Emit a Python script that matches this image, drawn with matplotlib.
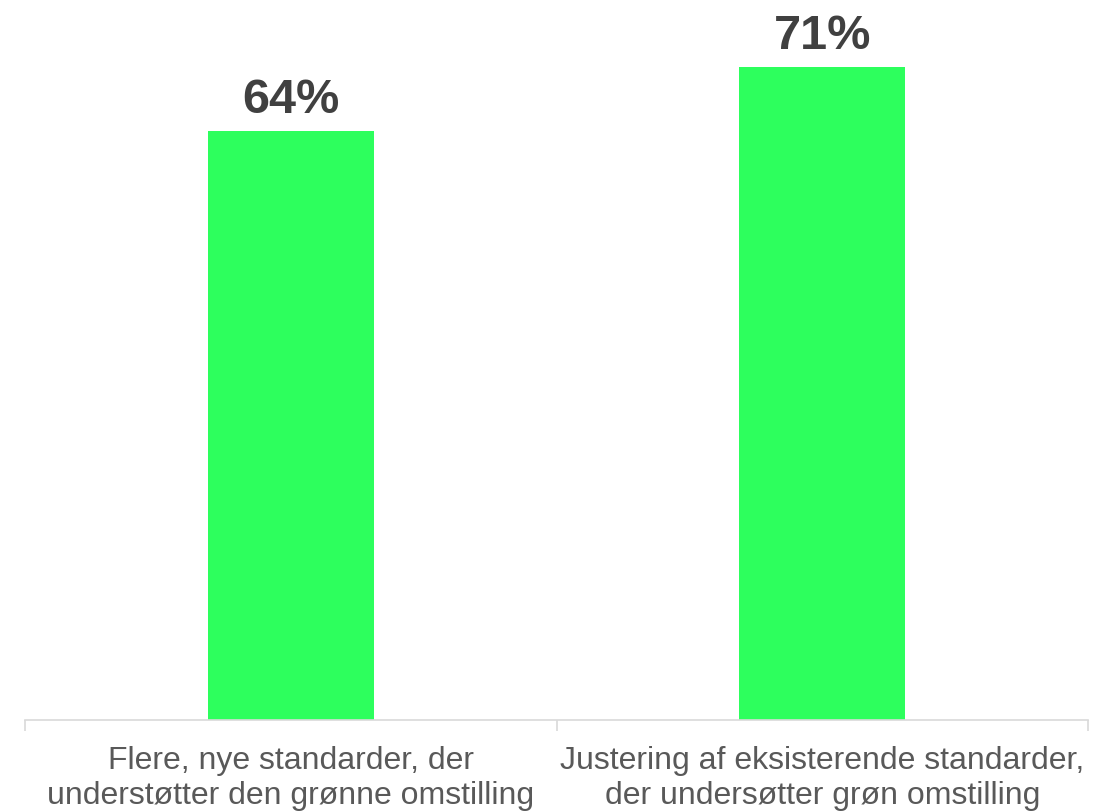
import matplotlib.pyplot as plt

# data
categories = [
    "Flere, nye standarder, der\nunderstøtter den grønne omstilling",
    "Justering af eksisterende standarder,\nder undersøtter grøn omstilling",
]
values = [64, 71]
value_labels = ["64%", "71%"]

plt.rcParams['font.family'] = ['Liberation Sans', 'DejaVu Sans']

fig = plt.figure(figsize=(10.96, 8.11), dpi=100)
ax = fig.add_axes([25 / 1096, (811 - 720) / 811, 1063 / 1096, 720 / 811])

x = list(range(len(categories)))
bars = ax.bar(x, values, width=0.312, color='#2DFF5D')

ax.set_xlim(-0.5, len(categories) - 0.5)
ax.set_ylim(0, 78.3)

for b, lab in zip(bars, value_labels):
    ax.annotate(lab, (b.get_x() + b.get_width() / 2, b.get_height()),
                xytext=(0, 6), textcoords='offset points',
                ha='center', va='bottom', fontsize=35, fontweight='bold',
                color='#404040')

for s in ['top', 'right', 'left']:
    ax.spines[s].set_visible(False)
ax.spines['bottom'].set_color('#D9D9D9')
ax.spines['bottom'].set_linewidth(1.2)

ax.set_yticks([])
ax.set_xticks([-0.5, 0.5, 1.5], minor=False)
ax.set_xticklabels([])
ax.tick_params(axis='x', length=8, color='#D9D9D9', width=1.2)
ax.set_xticks(x, minor=True)
ax.set_xticklabels(categories, minor=True, fontsize=23, color='#595959',
                   linespacing=1.2)
ax.tick_params(axis='x', which='minor', length=0, pad=19)

fig.savefig("out.png", dpi=100)
